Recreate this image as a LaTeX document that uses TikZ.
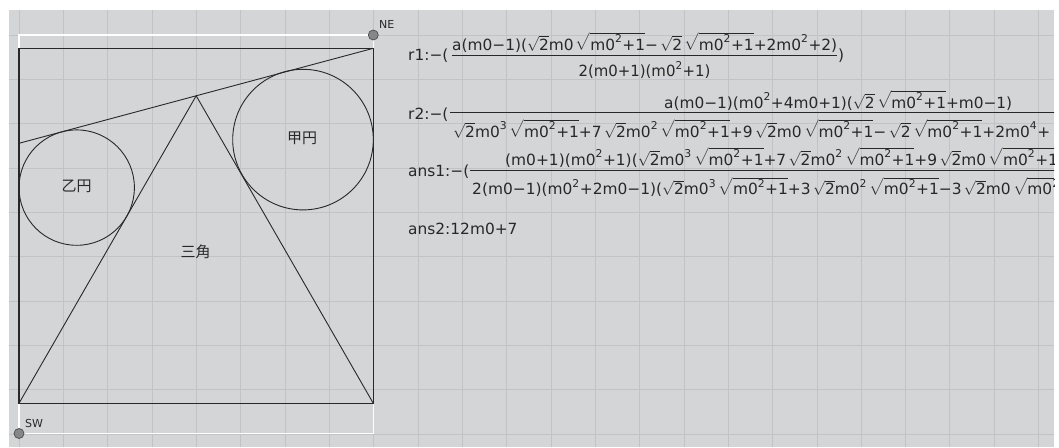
\documentclass[tikz,border=0pt]{standalone}
\usepackage{amsmath}
\usepackage{graphicx}
\usepackage{fontspec}
\setmainfont{DejaVu Sans}
\newfontfamily\cjk{Noto Sans CJK JP}
\definecolor{bgc}{RGB}{212,213,215}
\definecolor{gridc}{RGB}{194,195,198}
\definecolor{ink}{RGB}{40,40,40}
\definecolor{ptfill}{RGB}{135,135,135}
\newcommand\fsz{\fontsize{15.4pt}{18pt}\selectfont\color{ink}}
\newcommand\lblfont{\fontsize{11pt}{13pt}\selectfont\color{ink}}
\newcommand\cjkfont{\cjk\fontsize{15pt}{18pt}\selectfont\color{ink}}
\newcommand\T[1]{\text{#1}}
\newcommand\rt{\sqrt{\T{2}}}
\newcommand\mq{\sqrt{\T{m0}^{\T{2}}\T{+1}}}
\newsavebox\bxa
\newlength\mylen
\tikzset{
  geo/.style={draw=ink,line width=0.9pt},
  frac/.style={draw=ink,line width=0.9pt},
  txt/.style={anchor=base west,inner sep=0pt,font=\fsz},
  ptnode/.style={circle,fill=ptfill,draw=black!70,line width=0.7pt,minimum size=10pt,inner sep=0pt},
}
\begin{document}
\sbox\bxa{\fsz$\rt\T{m0}^{\T{3}}\,\mq\T{+7}\,\rt\T{m0}^{\T{2}}\,\mq\T{+9}\,\rt\T{m0}\,\mq\T{−}\,\rt\,\mq\T{+2m0}^{\T{4}}\T{+}$}%
\setlength\mylen{\wd\bxa}%
\pgfmathsetmacro\fac{597pt/\mylen}%
\begin{tikzpicture}[x=1pt,y=-1pt]
\useasboundingbox (0,0) rectangle (1059,447);
\fill[white] (0,0) rectangle (1059,447);
\fill[bgc] (9,10) rectangle (1054,447);
\foreach \k in {0,...,23} \draw[gridc,line width=0.9pt] ({19+44.33*\k},10) -- ({19+44.33*\k},447);
\foreach \k in {0,...,9} \draw[gridc,line width=0.9pt] (9,{35+44.33*\k}) -- (1054,{35+44.33*\k});
% frame of view
\draw[white,line width=1.5pt] (19,35) rectangle (373.3,433.5);
% square
\coordinate (A) at (19,403.3);
\coordinate (B) at (373.3,403.3);
\coordinate (C) at (373.3,48.3);
\coordinate (D) at (19,48.3);
\coordinate (P) at (19,143.3);
\coordinate (Q) at (196.2,95.8);
\draw[geo,line width=1.3pt] (A) -- (B) -- (C) -- (D) -- cycle;
\draw[geo] (P) -- (C);
\draw[geo] (A) -- (Q) -- (B);
\draw[geo] (303,139.6) circle[radius=70.3pt];
\draw[geo] (76.7,187.6) circle[radius=57.7pt];
\node[font=\cjkfont,inner sep=0pt] (kou) at (302,138.5) {甲円};
\node[font=\cjkfont,inner sep=0pt] (otsu) at (76.5,186.5) {乙円};
\node[font=\cjkfont,inner sep=0pt] (sankaku) at (195.5,252) {三角};
% points
\node[ptnode] (NE) at (373.3,35) {};
\node[ptnode] (SW) at (19,433.5) {};
\node[anchor=base west,inner sep=0pt,font=\lblfont] (NEl) at (379,28) {NE};
\node[anchor=base west,inner sep=0pt,font=\lblfont] (SWl) at (25,427) {SW};
% formulas
\begin{scope}
\clip (9,10) rectangle (1054,447);
% r1
\node[txt] (r1l) at (408,60.7) {r1:−(};
\node[txt] (r1n) at (452,50) {\resizebox{385pt}{\height}{$\T{a(m0−1)(}\rt\T{m0}\,\mq\T{−}\,\rt\,\mq\T{+2m0}^{\T{2}}\T{+2)}$}};
\draw[frac] (452,55) -- (837,55);
\node[txt,anchor=base] (r1d) at (644.5,76.7) {\resizebox{132pt}{\height}{$\T{2(m0+1)(m0}^{\T{2}}\T{+1)}$}};
\node[txt] (r1c) at (838,60.7) {)};
% r2
\node[txt] (r2l) at (408,119.3) {r2:−(};
\node[txt] (r2n) at (664,108) {\resizebox{348pt}{\height}{$\T{a(m0−1)(m0}^{\T{2}}\T{+4m0+1)(}\rt\,\mq\T{+m0−1)}$}};
\draw[frac] (450,112.5) -- (1060,112.5);
\node[txt] (r2d) at (453,137) {\scalebox{\fac}[1]{\usebox\bxa}};
% ans1
\node[txt] (a1l) at (408,176.3) {ans1:−(};
\node[txt] (a1n) at (505,165) {\scalebox{\fac}[1]{$\T{(m0+1)(m0}^{\T{2}}\T{+1)(}\rt\T{m0}^{\T{3}}\,\mq\T{+7}\,\rt\T{m0}^{\T{2}}\,\mq\T{+9}\,\rt\T{m0}\,\mq$}};
\draw[frac] (470,170) -- (1060,170);
\node[txt] (a1d) at (472,194.5) {\scalebox{\fac}[1]{$\T{2(m0−1)(m0}^{\T{2}}\T{+2m0−1)(}\rt\T{m0}^{\T{3}}\,\mq\T{+3}\,\rt\T{m0}^{\T{2}}\,\mq\T{−3}\,\rt\T{m0}\,\mq$}};
% ans2
\node[txt] (a2) at (408,234) {ans2:12m0+7};
\end{scope}
\end{tikzpicture}
\end{document}
